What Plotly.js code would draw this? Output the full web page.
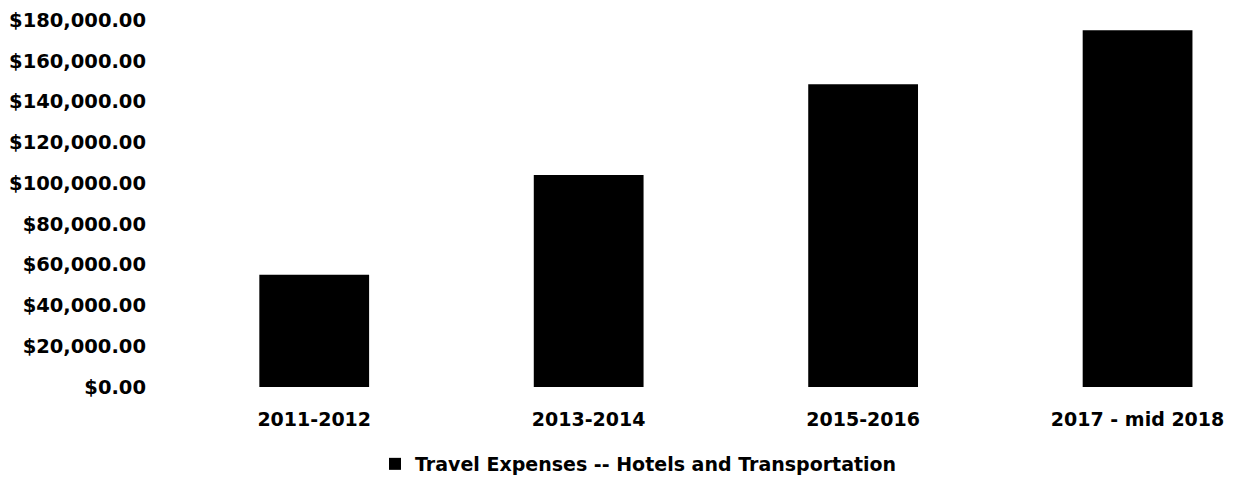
<!DOCTYPE html>
<html>
<head>
<meta charset="utf-8">
<script src="https://cdn.plot.ly/plotly-3.0.1.min.js"></script>
<style>
  html, body { margin: 0; padding: 0; background: #fff; }
  #chart { width: 1235px; height: 491px; }
</style>
</head>
<body>
<div id="chart"></div>
<script>
  // Travel expenses bar chart
  const periods = ['2011-2012', '2013-2014', '2015-2016', '2017 - mid 2018'];
  const expenses = [55000, 104000, 148500, 175000];
  const seriesName = 'Travel Expenses -- Hotels and Transportation';
  const yTicks = [0, 20000, 40000, 60000, 80000, 100000, 120000, 140000, 160000, 180000];
  const yTickLabels = yTicks.map(v => '$' + v.toLocaleString('en-US') + '.00');

  const FONT = '"DejaVu Sans", sans-serif';

  const traces = [{
    type: 'bar',
    x: periods,
    y: expenses,
    name: seriesName,
    marker: { color: '#000000' },
    showlegend: true,
    hoverinfo: 'skip'
  }];

  const layout = {
    width: 1235,
    height: 491,
    paper_bgcolor: '#ffffff',
    plot_bgcolor: '#ffffff',
    font: { family: FONT, color: '#000000', size: 19, weight: 700 },
    margin: { t: 20, b: 104, l: 177, r: 0, pad: 0 },
    bargap: 0.6,
    showlegend: true,
    xaxis: {
      type: 'category',
      range: [-0.5, 3.355],
      showgrid: false,
      showline: false,
      zeroline: false,
      ticks: '',
      ticklabelstandoff: 19,
      tickfont: { family: FONT, size: 19, weight: 700, color: '#000' }
    },
    yaxis: {
      range: [0, 180000],
      tickvals: yTicks,
      ticktext: yTickLabels,
      showgrid: false,
      showline: false,
      zeroline: false,
      ticks: '',
      ticklabelstandoff: 30,
      tickfont: { family: FONT, size: 19.5, weight: 700, color: '#000' }
    },
    legend: {
      orientation: 'h',
      xref: 'container',
      yref: 'container',
      x: 0.517,
      xanchor: 'center',
      y: 0.055,
      yanchor: 'middle',
      itemwidth: 30,
      font: { family: FONT, size: 19, weight: 700, color: '#000' }
    }
  };

  Plotly.newPlot('chart', traces, layout, { displayModeBar: false, responsive: false });
</script>
</body>
</html>
